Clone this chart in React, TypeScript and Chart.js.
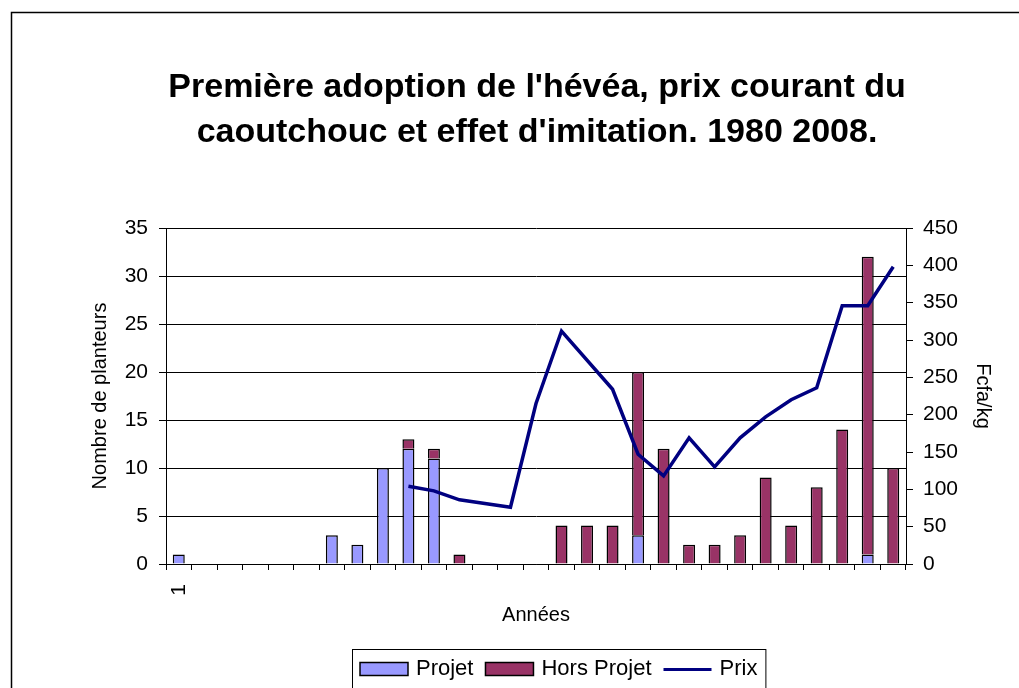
import React, { useEffect, useRef } from "react";
import { Chart, registerables } from "chart.js";

Chart.register(...registerables);

const years = [
  "1980", "1981", "1982", "1983", "1984", "1985", "1986", "1987", "1988", "1989",
  "1990", "1991", "1992", "1993", "1994", "1995", "1996", "1997", "1998", "1999",
  "2000", "2001", "2002", "2003", "2004", "2005", "2006", "2007", "2008",
];
const xTickLabels = [
  "1", "", "", "", "", "", "", "", "", "",
  "", "", "", "", "", "", "", "", "", "",
  "", "", "", "", "", "", "", "", "",
];
const projet = [1, 0, 0, 0, 0, 0, 3, 2, 10, 12, 11, 0, 0, 0, 0, 0, 0, 0, 3, 0, 0, 0, 0, 0, 0, 0, 0, 1, 0];
const horsProjet = [0, 0, 0, 0, 0, 0, 0, 0, 0, 1, 1, 1, 0, 0, 0, 4, 4, 4, 17, 12, 2, 2, 3, 9, 4, 8, 14, 31, 10];
const prix: (number | null)[] = [
  null, null, null, null, null, null, null, null, null, 104,
  98, 86, null, 76, 215, 312, null, 234, 147, 118,
  169, 130, 169, 197, 220, 236, 346, 346, 398,
];
const leftTicks = { min: 0, max: 35, step: 5 };
const rightTicks = { min: 0, max: 450, step: 50 };

const FONT = "'Liberation Sans', Arial, sans-serif";

const framePlugin = {
  id: "frameAndLegend",
  afterDraw(chart: any) {
    const ctx = chart.ctx as CanvasRenderingContext2D;
    ctx.save();
    // outer frame
    ctx.strokeStyle = "#000";
    ctx.lineWidth = 1.5;
    ctx.strokeRect(11.5, 12.5, chart.width + 20, chart.height + 20);

    // custom legend
    ctx.font = `22px ${FONT}`;
    const ds = chart.data.datasets;
    const boxW = 48, boxH = 13, gapText = 8, gapItem = 12, padX = 8;
    const widths = ds.map((d: any) => boxW + gapText + ctx.measureText(d.label).width);
    const total = padX * 2 + widths.reduce((a: number, b: number) => a + b, 0) + gapItem * (ds.length - 1);
    const left = Math.round(559 - total / 2);
    const top = 649;
    ctx.lineWidth = 1;
    ctx.strokeStyle = "#000";
    ctx.strokeRect(left + 0.5, top + 0.5, total, 60);
    let x = left + padX;
    const cy = 669;
    ctx.textBaseline = "middle";
    ctx.textAlign = "left";
    ds.forEach((d: any, i: number) => {
      if (d.type === "line") {
        ctx.strokeStyle = d.borderColor;
        ctx.lineWidth = 3;
        ctx.beginPath();
        ctx.moveTo(x, cy + 0.5);
        ctx.lineTo(x + boxW, cy + 0.5);
        ctx.stroke();
      } else {
        ctx.fillStyle = d.backgroundColor;
        ctx.fillRect(x, cy - boxH / 2, boxW, boxH);
        ctx.strokeStyle = "#000";
        ctx.lineWidth = 1.5;
        ctx.strokeRect(x, cy - boxH / 2, boxW, boxH);
      }
      ctx.fillStyle = "#000";
      ctx.fillText(d.label, x + boxW + gapText, cy);
      x += widths[i] + gapItem;
    });
    ctx.restore();
  },
};

export default function App() {
  const ref = useRef<HTMLCanvasElement | null>(null);

  useEffect(() => {
    if (!ref.current) return;
    const chart = new Chart(ref.current, {
      type: "bar",
      data: {
        labels: years,
        datasets: [
          {
            type: "bar",
            label: "Projet",
            data: projet,
            backgroundColor: "#9999FF",
            borderColor: "#000",
            borderWidth: 1.5,
            yAxisID: "y",
            order: 2,
          },
          {
            type: "bar",
            label: "Hors Projet",
            data: horsProjet,
            backgroundColor: "#993366",
            borderColor: "#000",
            borderWidth: 1.5,
            yAxisID: "y",
            order: 2,
          },
          {
            type: "line",
            label: "Prix",
            data: prix,
            borderColor: "#000080",
            backgroundColor: "#000080",
            borderWidth: 3.5,
            pointRadius: 0,
            tension: 0,
            spanGaps: true,
            yAxisID: "y1",
            order: 0,
          },
        ] as any,
      },
      options: {
        animation: false,
        responsive: false,
        maintainAspectRatio: false,
        datasets: {
          bar: { barPercentage: 0.47, categoryPercentage: 1 },
        },
        layout: { padding: { left: 76, right: 21, top: 12, bottom: 58 } },
        plugins: {
          legend: { display: false },
          tooltip: { enabled: false },
          title: {
            display: true,
            text: [
              "Première adoption de l'hévéa, prix courant du",
              "caoutchouc et effet d'imitation. 1980 2008.",
            ],
            color: "#000",
            font: { family: FONT, size: 34, weight: "bold", lineHeight: 45 / 34 },
            padding: { top: 53.5, bottom: 72.5 },
          },
        },
        scales: {
          x: {
            stacked: true,
            grid: {
              offset: true,
              drawOnChartArea: false,
              drawTicks: true,
              tickLength: 6,
              color: "#000",
            },
            border: { display: true, color: "#000", width: 1 },
            ticks: {
              autoSkip: false,
              minRotation: 90,
              maxRotation: 90,
              padding: 14,
              color: "#000",
              font: { family: FONT, size: 21 },
              callback: (_v: any, i: number) => xTickLabels[i],
            },
            title: {
              display: true,
              text: "Années",
              color: "#000",
              font: { family: FONT, size: 20 },
              padding: { top: 3, bottom: 3 },
            },
            afterFit: (s: any) => {
              s.height = 66;
            },
          },
          y: {
            stacked: true,
            position: "left",
            min: leftTicks.min,
            max: leftTicks.max,
            ticks: {
              stepSize: leftTicks.step,
              padding: 11,
              color: "#000",
              font: { family: FONT, size: 21 },
            },
            grid: {
              color: "#000",
              lineWidth: 1,
              drawTicks: true,
              tickLength: 7,
            },
            border: { display: true, color: "#000", width: 1 },
            title: {
              display: true,
              text: "Nombre de planteurs",
              color: "#000",
              font: { family: FONT, size: 20 },
              padding: { top: 12, bottom: 4 },
            },
            afterFit: (s: any) => {
              s.width = 90;
            },
          },
          y1: {
            position: "right",
            min: rightTicks.min,
            max: rightTicks.max,
            ticks: {
              stepSize: rightTicks.step,
              padding: 10,
              color: "#000",
              font: { family: FONT, size: 21 },
            },
            grid: {
              drawOnChartArea: false,
              drawTicks: true,
              tickLength: 7,
              color: "#000",
            },
            border: { display: true, color: "#000", width: 1 },
            title: {
              display: true,
              text: "Fcfa/kg",
              color: "#000",
              font: { family: FONT, size: 20 },
              padding: { top: 3, bottom: 4 },
            },
            afterFit: (s: any) => {
              s.width = 92;
            },
          },
        },
      } as any,
      plugins: [framePlugin],
    });
    return () => chart.destroy();
  }, []);

  return (
    <div style={{ position: "absolute", left: 0, top: 0, width: 1019, height: 688, background: "#fff" }}>
      <canvas ref={ref} width={1019} height={688} style={{ display: "block", width: 1019, height: 688 }} />
    </div>
  );
}
